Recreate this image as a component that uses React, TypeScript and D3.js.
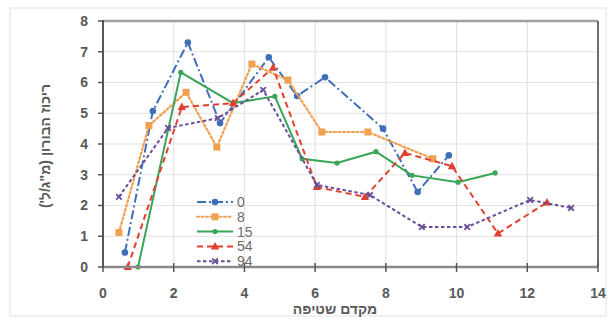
import React from "react";
import * as d3 from "d3";

const seriesNames = ["0", "8", "15", "54", "94"];
const s0x = [0.62, 1.41, 2.4, 3.31, 4.69, 5.49, 6.28, 7.92, 8.9, 9.78];
const s0y = [0.47, 5.07, 7.3, 4.68, 6.82, 5.56, 6.17, 4.5, 2.44, 3.63];
const s8x = [0.45, 1.3, 2.35, 3.22, 4.21, 5.23, 6.19, 7.49, 9.33];
const s8y = [1.12, 4.6, 5.68, 3.9, 6.6, 6.08, 4.39, 4.39, 3.52];
const s15x = [0.99, 2.2, 3.68, 4.86, 5.63, 6.62, 7.72, 8.74, 10.04, 11.09];
const s15y = [0.0, 6.33, 5.33, 5.55, 3.52, 3.38, 3.75, 2.98, 2.76, 3.06];
const s54x = [0.7, 2.23, 3.68, 4.81, 6.05, 7.41, 8.54, 9.87, 11.17, 12.56];
const s54y = [0.0, 5.2, 5.33, 6.48, 2.6, 2.28, 3.71, 3.28, 1.09, 2.1];
const s94x = [0.45, 1.84, 3.25, 4.53, 6.05, 7.55, 9.02, 10.3, 12.08, 13.24];
const s94y = [2.28, 4.52, 4.84, 5.76, 2.67, 2.34, 1.3, 1.3, 2.18, 1.92];
const xTicks = [0, 2, 4, 6, 8, 10, 12, 14];
const yTicks = [0, 1, 2, 3, 4, 5, 6, 7, 8];
const xTitle = "מקדם שטיפה";
const yTitle = "ריכוז הבורון (מ\"ג/ל')";

const xs = [s0x, s8x, s15x, s54x, s94x];
const ys = [s0y, s8y, s15y, s54y, s94y];
const colors = ["#3f6fb8", "#f0a050", "#3aa556", "#e0412f", "#6a4f9a"];
const dashes = ["9,3,2,3", "2,2.5", "", "6,4", "3.5,2.5"];
const markers = ["circle", "square", "circle", "triangle", "x"];

const W = 614, H = 322;
const L = 103, R = 598, T = 21, B = 267;

function Marker({ type, x, y, color }: { type: string; x: number; y: number; color: string }) {
  if (type === "circle")
    return <circle cx={x} cy={y} r={color === "#3aa556" ? 2.6 : 3.3} fill={color} />;
  if (type === "square")
    return <rect x={x - 3.5} y={y - 3.5} width={7} height={7} fill={color} />;
  if (type === "triangle") {
    const p = `${x},${y - 4.5} ${x + 4.2},${y + 3} ${x - 4.2},${y + 3}`;
    return <polygon points={p} fill={color} />;
  }
  return (
    <g stroke={color} strokeWidth={1.8}>
      <line x1={x - 2.8} y1={y - 2.8} x2={x + 2.8} y2={y + 2.8} />
      <line x1={x - 2.8} y1={y + 2.8} x2={x + 2.8} y2={y - 2.8} />
    </g>
  );
}

export default function App() {
  const x = d3.scaleLinear().domain([0, 14]).range([L, R]);
  const y = d3.scaleLinear().domain([0, 8]).range([B, T]);
  const font = "'Liberation Sans', 'DejaVu Sans', Arial, sans-serif";
  const line = d3
    .line<[number, number]>()
    .x((d) => x(d[0]))
    .y((d) => y(d[1]));

  const legendX = 197;
  const legendY0 = 202;
  const legendStep = 14.8;

  return (
    <svg
      width={W}
      height={H}
      style={{ position: "absolute", left: 0, top: 0, background: "#fff" }}
      fontFamily={font}
    >
      <rect x={10} y={8} width={596} height={308} fill="#fff" stroke="#e2e2e2" strokeWidth={1} />
      {/* gridlines */}
      {yTicks.map((t) => (
        <line key={"gy" + t} x1={L} x2={R} y1={y(t)} y2={y(t)} stroke="#e3e3e3" strokeWidth={1.2} />
      ))}
      {xTicks.map((t) => (
        <line key={"gx" + t} x1={x(t)} x2={x(t)} y1={T} y2={B} stroke="#e3e3e3" strokeWidth={1.2} />
      ))}
      {/* frame */}
      <line x1={L} x2={R} y1={T} y2={T} stroke="#a0a0a0" strokeWidth={2.5} />
      <line x1={R} x2={R} y1={T} y2={B} stroke="#6e6e6e" strokeWidth={2} />
      {/* series */}
      {xs.map((sx, i) => {
        const pts: [number, number][] = sx.map((v, j) => [v, ys[i][j]]);
        return (
          <g key={"s" + i}>
            <path
              d={line(pts) || ""}
              fill="none"
              stroke={colors[i]}
              strokeWidth={i === 1 ? 2.2 : 2}
              strokeDasharray={dashes[i]}
              strokeLinecap={i === 1 ? "round" : "butt"}
            />
            {pts.map((p, j) => (
              <Marker key={j} type={markers[i]} x={x(p[0])} y={y(p[1])} color={colors[i]} />
            ))}
          </g>
        );
      })}
      {/* axes */}
      <line x1={L} x2={L} y1={T - 1} y2={B} stroke="#555" strokeWidth={2} />
      <line x1={L} x2={R} y1={B} y2={B} stroke="#8a8a8a" strokeWidth={2.5} />
      {yTicks.map((t) => (
        <g key={"yt" + t}>
          <line x1={L - 5} x2={L} y1={y(t)} y2={y(t)} stroke="#555" strokeWidth={1.5} />
          <text
            x={L - 15}
            y={y(t)}
            dy="0.35em"
            textAnchor="end"
            fontSize={14}
            fontWeight="bold"
            fill="#595959"
          >
            {t}
          </text>
        </g>
      ))}
      {xTicks.map((t) => (
        <g key={"xt" + t}>
          <line x1={x(t)} x2={x(t)} y1={B - 4} y2={B + 5} stroke="#555" strokeWidth={1.5} />
          <text
            x={x(t)}
            y={293}
            dy="0.35em"
            textAnchor="middle"
            fontSize={14}
            fontWeight="bold"
            fill="#595959"
          >
            {t}
          </text>
        </g>
      ))}
      <text x={335} y={309} dy="0.35em" textAnchor="middle" fontSize={14} fontWeight="bold" fill="#595959">
        {xTitle}
      </text>
      <text
        transform={`translate(45,${(T + B) / 2 + 2}) rotate(-90)`}
        textAnchor="middle"
        dy="0.35em"
        fontSize={14}
        fontWeight="bold"
        fill="#595959"
      >
        {yTitle}
      </text>
      {/* legend */}
      {seriesNames.map((n, i) => {
        const ly = legendY0 + i * legendStep;
        return (
          <g key={"lg" + i}>
            <line
              x1={legendX}
              x2={legendX + 36}
              y1={ly}
              y2={ly}
              stroke={colors[i]}
              strokeWidth={2}
              strokeDasharray={dashes[i]}
              strokeLinecap={i === 1 ? "round" : "butt"}
            />
            <Marker type={markers[i]} x={legendX + 18} y={ly} color={colors[i]} />
            <text x={legendX + 40} y={ly} dy="0.35em" fontSize={14} fill="#6b6b6b">
              {n}
            </text>
          </g>
        );
      })}
    </svg>
  );
}
